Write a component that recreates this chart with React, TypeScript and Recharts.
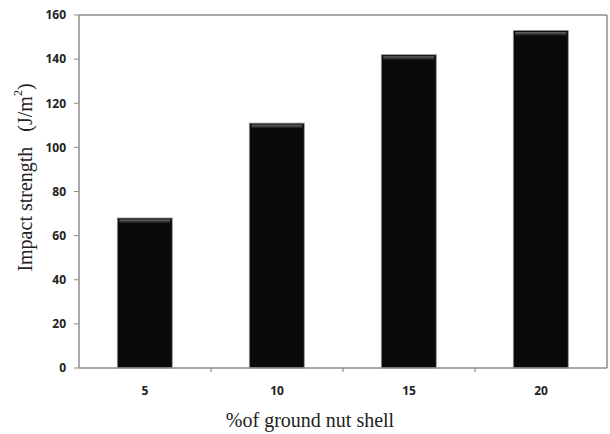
import { BarChart, Bar, XAxis, YAxis } from "recharts";

const shellPercent = ["5", "10", "15", "20"];
const impactStrength = [68, 111, 142, 153];
const yTicks = [0, 20, 40, 60, 80, 100, 120, 140, 160];

const data = shellPercent.map((p, i) => ({ p, value: impactStrength[i] }));

const W = 610;
const H = 434;
const MARGIN = { top: 15, right: 3, bottom: 36, left: 19 };
const Y_AXIS_W = 60;
const X_AXIS_H = 30;
const axisGrey = "#8c8c8c";
const serif = "Liberation Serif";

// plot box derived from the chart margins and axis sizes
const plotLeft = MARGIN.left + Y_AXIS_W;
const plotTop = MARGIN.top;
const plotRight = W - MARGIN.right;
const plotBottom = H - MARGIN.bottom - X_AXIS_H;

// top/right frame edges and the small ticks between categories
function FrameOverlay() {
  const band = (plotRight - plotLeft) / shellPercent.length;
  return (
    <svg width={W} height={H} style={{ position: "absolute", left: 0, top: 0, pointerEvents: "none" }}>
      <line x1={plotLeft} x2={plotRight} y1={plotTop} y2={plotTop} stroke={axisGrey} strokeWidth={1.5} />
      <line x1={plotRight} x2={plotRight} y1={plotTop} y2={plotBottom} stroke={axisGrey} strokeWidth={1.5} />
      {shellPercent.slice(1).map((p, i) => (
        <line
          key={p}
          x1={plotLeft + band * (i + 1)}
          x2={plotLeft + band * (i + 1)}
          y1={plotBottom}
          y2={plotBottom + 4}
          stroke={axisGrey}
          strokeWidth={1.2}
        />
      ))}
    </svg>
  );
}

// dark bar with a light bevel at the top edge
function BevelBar(props: any) {
  const { x, y, width, height } = props;
  if (!height || height <= 0) return null;
  return (
    <g>
      <rect x={x} y={y} width={width} height={height} fill="#0a0a0a" stroke="#9a9a9a" strokeWidth={0.8} />
      <rect x={x + 2} y={y + 1.5} width={width - 4} height={4} fill="url(#bevel)" />
    </g>
  );
}

function YTitle(props: any) {
  const { viewBox } = props;
  const cx = 25;
  const cy = viewBox.y + viewBox.height / 2 - 14;
  return (
    <text
      x={cx}
      y={cy}
      transform={`rotate(-90 ${cx} ${cy})`}
      textAnchor="middle"
      dominantBaseline="central"
      fontFamily={serif}
      fontSize={20}
      fill="#222"
    >
      Impact strength{"\u00a0\u00a0\u00a0"}(J/m<tspan dy={-7} fontSize={12}>2</tspan>
      <tspan dy={7}>)</tspan>
    </text>
  );
}

function XTitle(props: any) {
  const { viewBox } = props;
  return (
    <text
      x={viewBox.x + viewBox.width / 2 - 33}
      y={420}
      textAnchor="middle"
      dominantBaseline="central"
      fontFamily={serif}
      fontSize={20}
      fill="#222"
    >
      %of ground nut shell
    </text>
  );
}

export default function App() {
  return (
    <div style={{ position: "absolute", left: 0, top: 0, width: W, height: H, background: "#fff" }}>
      <BarChart width={W} height={H} data={data} margin={MARGIN} barCategoryGap="29%">
        <defs>
          <linearGradient id="bevel" x1="0" y1="0" x2="0" y2="1">
            <stop offset="0%" stopColor="#6a6a6a" />
            <stop offset="100%" stopColor="#0a0a0a" />
          </linearGradient>
        </defs>
        <XAxis
          dataKey="p"
          height={X_AXIS_H}
          tickLine={false}
          tickSize={0}
          tickMargin={18}
          axisLine={{ stroke: axisGrey, strokeWidth: 1.5 }}
          tick={{ fontFamily: "Open Sans", fontSize: 12, fontWeight: 700, fill: "#222" }}
          label={<XTitle />}
        />
        <YAxis
          domain={[0, 160]}
          ticks={yTicks}
          width={Y_AXIS_W}
          tickSize={5}
          tickMargin={8}
          axisLine={{ stroke: axisGrey, strokeWidth: 1.5 }}
          tickLine={{ stroke: axisGrey }}
          tick={{ fontFamily: "Open Sans", fontSize: 12, fontWeight: 700, fill: "#222" }}
          label={<YTitle />}
        />
        <Bar dataKey="value" fill="#0a0a0a" shape={<BevelBar />} isAnimationActive={false} />
      </BarChart>
      <FrameOverlay />
    </div>
  );
}
